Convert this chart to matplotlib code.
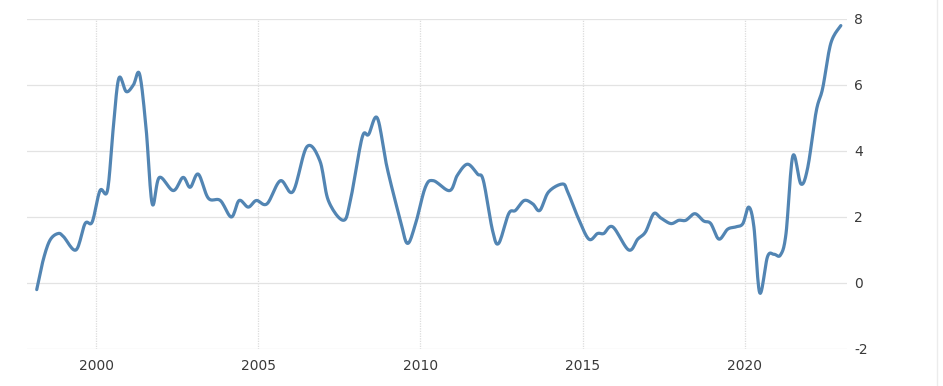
import numpy as np
import matplotlib
matplotlib.use("Agg")
import matplotlib.pyplot as plt
from matplotlib.lines import Line2D

plt.rcParams["axes.unicode_minus"] = False

# readings (decimal year, value)
years = [1998.17, 1998.37, 1998.58, 1998.83, 1999.0, 1999.38, 1999.66, 1999.88,
         2000.12, 2000.35, 2000.52, 2000.7, 2000.93, 2001.15, 2001.34, 2001.54,
         2001.73, 2001.95, 2002.38, 2002.68, 2002.9, 2003.15, 2003.46, 2003.83,
         2004.17, 2004.41, 2004.69, 2004.94, 2005.27, 2005.68, 2006.07, 2006.5,
         2006.9, 2007.16, 2007.62, 2007.84, 2008.2, 2008.4, 2008.67, 2008.97,
         2009.38, 2009.6, 2009.85, 2010.15, 2010.4, 2010.9, 2011.14, 2011.45,
         2011.76, 2011.94, 2012.22, 2012.41, 2012.72, 2012.93, 2013.2, 2013.46,
         2013.68, 2013.95, 2014.38, 2014.54, 2014.85, 2015.19, 2015.46, 2015.65,
         2015.93, 2016.42, 2016.7, 2016.94, 2017.19, 2017.41, 2017.72, 2017.96,
         2018.18, 2018.46, 2018.73, 2018.95, 2019.2, 2019.47, 2019.72, 2019.94,
         2020.12, 2020.28, 2020.46, 2020.7, 2020.9, 2021.1, 2021.27, 2021.48,
         2021.73, 2021.94, 2022.2, 2022.4, 2022.65, 2022.96]
values = [-0.2, 0.7, 1.3, 1.5, 1.4, 1.0, 1.8, 1.85,
          2.8, 2.8, 4.6, 6.2, 5.8, 6.0, 6.33, 4.7,
          2.4, 3.2, 2.8, 3.2, 2.9, 3.3, 2.57, 2.5,
          2.0, 2.5, 2.3, 2.5, 2.4, 3.1, 2.77, 4.13,
          3.7, 2.5, 1.9, 2.5, 4.4, 4.5, 5.0, 3.5,
          1.9, 1.2, 1.8, 2.9, 3.1, 2.8, 3.27, 3.6,
          3.3, 3.1, 1.6, 1.2, 2.1, 2.2, 2.5, 2.4,
          2.2, 2.76, 3.0, 2.76, 2.0, 1.33, 1.5, 1.5,
          1.7, 1.0, 1.33, 1.55, 2.1, 1.97, 1.8, 1.9,
          1.9, 2.1, 1.88, 1.8, 1.33, 1.63, 1.7, 1.8,
          2.3, 1.7, -0.3, 0.8, 0.87, 0.85, 1.5, 3.85,
          3.0, 3.5, 5.2, 5.9, 7.26, 7.8]

xticks = [2000, 2005, 2010, 2015, 2020]
yticks = [-2, 0, 2, 4, 6, 8]


def smooth(x, y, n=12):
    # Catmull-Rom curve through the read points, for a smooth stroke
    x = np.asarray(x, float)
    y = np.asarray(y, float)
    px = np.concatenate([[x[0]], x, [x[-1]]])
    py = np.concatenate([[y[0]], y, [y[-1]]])
    t = np.linspace(0, 1, n, endpoint=False)
    ox, oy = [], []
    for i in range(1, len(px) - 2):
        for arr, out in ((px, ox), (py, oy)):
            p0, p1, p2, p3 = arr[i - 1], arr[i], arr[i + 1], arr[i + 2]
            out.extend(0.5 * (2 * p1 + (-p0 + p2) * t
                              + (2 * p0 - 5 * p1 + 4 * p2 - p3) * t ** 2
                              + (-p0 + 3 * p1 - 3 * p2 + p3) * t ** 3))
    ox.append(x[-1])
    oy.append(y[-1])
    return np.array(ox), np.array(oy)


fig = plt.figure(figsize=(9.43, 3.86), dpi=100)
ax = fig.add_axes([27 / 943, 1 - 349 / 386, (847 - 27) / 943, (349 - 19) / 386])

sx, sy = smooth(years, values)
ax.plot(sx, sy, color="#5285b3", linewidth=2.3, solid_capstyle="round",
        solid_joinstyle="round", zorder=3)

ax.set_xlim(1997.87, 2023.15)
ax.set_ylim(-2, 8)
ax.set_xticks(xticks)
ax.set_yticks(yticks)
ax.yaxis.tick_right()
ax.tick_params(length=0, labelsize=10, labelcolor="#3a3a3a")
ax.tick_params(axis="x", pad=7)
ax.tick_params(axis="y", pad=5)
ax.grid(axis="y", color="#e3e3e3", linewidth=0.9, linestyle="-")
ax.grid(axis="x", color="#dcdcdc", linewidth=0.9, linestyle=(0, (1, 1)))
ax.set_axisbelow(True)
for s in ax.spines.values():
    s.set_visible(False)

fig.add_artist(Line2D([937 / 943, 937 / 943], [0, 1], color="#ececec",
                      linewidth=1, transform=fig.transFigure))

fig.savefig("out.png", dpi=100, facecolor="white")
